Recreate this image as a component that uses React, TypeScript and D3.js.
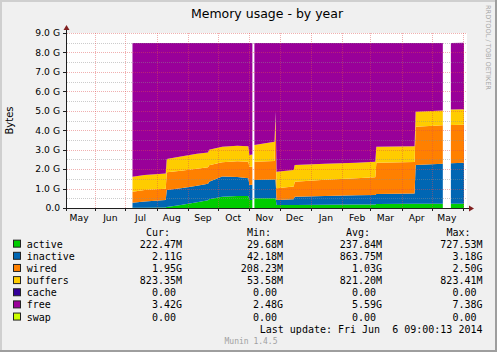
import React, { useRef, useEffect } from "react";
import * as d3 from "d3";

// daily samples (GiB, layer thickness); null = no data
const dates = [
  "2013-07-08", "2013-07-20", "2013-08-10", "2013-08-11", "2013-08-25",
  "2013-09-10", "2013-09-21", "2013-09-22", "2013-10-05", "2013-10-20",
  "2013-10-31", "2013-11-01", "2013-11-04", "2013-11-05", "2013-11-06",
  "2013-11-26", "2013-11-27", "2013-11-28", "2013-12-15", "2013-12-16",
  "2014-01-15", "2014-02-15", "2014-03-06", "2014-03-07", "2014-04-14",
  "2014-04-15", "2014-05-12", "2014-05-13", "2014-05-20", "2014-06-02",
];
const active = [
  0.01, 0.01, 0.02, 0.05, 0.15, 0.3, 0.4, 0.45, 0.58, 0.62,
  0.62, 0.41, 0.41, null, 0.5, 0.5, 0.5, 0.15, 0.15, 0.15,
  0.17, 0.18, 0.18, 0.2, 0.22, 0.22, 0.22, null, 0.22, 0.22,
];
const inactive = [
  0.26, 0.32, 0.39, 0.88, 0.87, 0.85, 0.85, 0.9, 1.04, 0.98,
  0.91, 0.77, 0.79, null, 0.94, 0.96, 0.96, 0.26, 0.3, 0.43,
  0.45, 0.47, 0.49, 0.52, 0.53, 1.99, 2.06, null, 2.08, 2.11,
];
const wired = [
  0.57, 0.59, 0.58, 0.91, 0.9, 0.87, 0.85, 0.85, 0.73, 0.8,
  0.85, 0.94, 0.92, null, 0.94, 0.96, 3.14, 0.6, 0.65, 0.77,
  0.83, 0.88, 0.91, 1.61, 1.61, 1.97, 1.97, null, 1.97, 1.95,
];
const buffers = [
  0.77, 0.78, 0.79, 0.68, 0.73, 0.77, 0.76, 0.8, 0.8, 0.8,
  0.79, 0.61, 0.63, null, 0.86, 0.99, 0.35, 0.86, 0.85, 0.86,
  0.83, 0.8, 0.8, 0.82, 0.81, 0.77, 0.77, null, 0.79, 0.8,
];
const cache = [
  0, 0, 0, 0, 0, 0, 0, 0, 0, 0,
  0, 0, 0, null, 0, 0, 0, 0, 0, 0,
  0, 0, 0, 0, 0, 0, 0, null, 0, 0,
];
const free = [
  6.88, 6.79, 6.71, 5.97, 5.84, 5.7, 5.63, 5.49, 5.34, 5.29,
  5.32, 5.76, 5.74, null, 5.25, 5.08, 3.54, 6.62, 6.54, 6.28,
  6.21, 6.16, 6.11, 5.34, 5.32, 3.54, 3.47, null, 3.43, 3.42,
];
const swap = [
  0, 0, 0, 0, 0, 0, 0, 0, 0, 0,
  0, 0, 0, null, 0, 0, 0, 0, 0, 0,
  0, 0, 0, 0, 0, 0, 0, null, 0, 0,
];

const monthLabels = ["May", "Jun", "Jul", "Aug", "Sep", "Oct", "Nov", "Dec", "Jan", "Feb", "Mar", "Apr", "May"];
const yTickValues = [0, 1, 2, 3, 4, 5, 6, 7, 8, 9];
const yTickLabels = ["0.0", "1.0 G", "2.0 G", "3.0 G", "4.0 G", "5.0 G", "6.0 G", "7.0 G", "8.0 G", "9.0 G"];

const legendNames = ["active", "inactive", "wired", "buffers", "cache", "free", "swap"];
const curValues = ["222.47M", "2.11G", "1.95G", "823.35M", "0.00", "3.42G", "0.00"];
const minValues = ["29.68M", "42.18M", "208.23M", "53.58M", "0.00", "2.48G", "0.00"];
const avgValues = ["237.84M", "863.75M", "1.03G", "821.20M", "0.00", "5.59G", "0.00"];
const maxValues = ["727.53M", "3.18G", "2.50G", "823.41M", "0.00", "7.38G", "0.00"];

const colors = ["#00cc00", "#0066b3", "#ff8000", "#ffcc00", "#330099", "#990099", "#ccff00"];

const App = () => {
  const ref = useRef(null);

  useEffect(() => {
    const svg = d3.select(ref.current);
    svg.selectAll("*").remove();

    const W = 497;
    const H = 352;
    const left = 67;
    const right = 467;
    const top = 33;
    const bottom = 208;
    const sans = "'DejaVu Sans', sans-serif";
    const mono = "'DejaVu Sans Mono', monospace";

    svg.attr("width", W).attr("height", H);

    // background + 3d frame
    svg.append("rect").attr("width", W).attr("height", H).attr("fill", "#f0f0f0");
    svg.append("path").attr("d", `M0,0H${W}V2H2V${H}H0Z`).attr("fill", "#cfcfcf");
    svg.append("path").attr("d", `M${W},0V${H}H0V${H - 2}H${W - 2}V0Z`).attr("fill", "#9e9e9e");

    const parse = d3.timeParse("%Y-%m-%d");
    const x = d3
      .scaleTime()
      .domain([new Date(2013, 4, 4), new Date(2014, 5, 5)])
      .range([left, right]);
    const y = d3.scaleLinear().domain([0, 9]).range([bottom, top]);

    svg
      .append("rect")
      .attr("x", left)
      .attr("y", top)
      .attr("width", right - left)
      .attr("height", bottom - top)
      .attr("fill", "#ffffff");

    const series = { active, inactive, wired, buffers, cache, free, swap };
    const rows = dates.map((d, i) => {
      const row = { date: parse(d), ok: active[i] !== null };
      legendNames.forEach((k) => {
        row[k] = series[k][i] ?? 0;
      });
      return row;
    });

    const stacked = d3.stack().keys(legendNames)(rows);
    const area = d3
      .area()
      .defined((d) => d.data.ok)
      .x((d) => x(d.data.date))
      .y0((d) => y(d[0]))
      .y1((d) => y(d[1]));

    svg
      .append("g")
      .selectAll("path")
      .data(stacked)
      .enter()
      .append("path")
      .attr("d", area)
      .attr("fill", (d, i) => colors[i]);

    // grid on top, dotted like rrdtool
    const grid = svg.append("g").attr("shape-rendering", "crispEdges");
    d3.range(0.5, 9, 1).forEach((v) => {
      grid
        .append("line")
        .attr("x1", left)
        .attr("x2", right)
        .attr("y1", Math.round(y(v)) + 0.5)
        .attr("y2", Math.round(y(v)) + 0.5)
        .attr("stroke", "rgba(143,143,143,0.45)")
        .attr("stroke-dasharray", "1,1");
    });
    yTickValues.slice(1).forEach((v) => {
      grid
        .append("line")
        .attr("x1", left)
        .attr("x2", right)
        .attr("y1", Math.round(y(v)) + 0.5)
        .attr("y2", Math.round(y(v)) + 0.5)
        .attr("stroke", "rgba(222,79,79,0.45)")
        .attr("stroke-dasharray", "1,1");
    });
    const months = d3.timeMonth.range(new Date(2013, 5, 1), new Date(2014, 5, 5));
    months.forEach((m) => {
      const xm = Math.round(x(m)) + 0.5;
      grid
        .append("line")
        .attr("x1", xm)
        .attr("x2", xm)
        .attr("y1", top)
        .attr("y2", bottom)
        .attr("stroke", "rgba(222,79,79,0.45)")
        .attr("stroke-dasharray", "1,1");
      grid
        .append("line")
        .attr("x1", xm)
        .attr("x2", xm)
        .attr("y1", bottom)
        .attr("y2", bottom + 3)
        .attr("stroke", "#1f1f1f");
    });

    // axes
    grid
      .append("line")
      .attr("x1", left - 4)
      .attr("x2", right + 3)
      .attr("y1", bottom + 0.5)
      .attr("y2", bottom + 0.5)
      .attr("stroke", "#1f1f1f");
    grid
      .append("line")
      .attr("x1", left - 0.5)
      .attr("x2", left - 0.5)
      .attr("y1", bottom + 3)
      .attr("y2", top - 4)
      .attr("stroke", "#1f1f1f");
    yTickValues.forEach((v) => {
      grid
        .append("line")
        .attr("x1", left - 4)
        .attr("x2", left)
        .attr("y1", Math.round(y(v)) + 0.5)
        .attr("y2", Math.round(y(v)) + 0.5)
        .attr("stroke", "#1f1f1f");
    });
    svg
      .append("path")
      .attr("d", `M${left - 3.5},${top - 3}L${left - 0.5},${top - 8}L${left + 2.5},${top - 3}Z`)
      .attr("fill", "#801f1f");
    svg
      .append("path")
      .attr("d", `M${right + 2},${bottom - 2.5}L${right + 7},${bottom + 0.5}L${right + 2},${bottom + 3.5}Z`)
      .attr("fill", "#801f1f");

    // tick labels
    yTickValues.forEach((v, i) => {
      svg
        .append("text")
        .attr("x", 60)
        .attr("y", y(v) + 3.3)
        .attr("text-anchor", "end")
        .attr("font-family", sans)
        .attr("font-size", 9.2)
        .attr("fill", "#000")
        .text(yTickLabels[i]);
    });
    const labelMonths = d3.timeMonth.range(new Date(2013, 4, 1), new Date(2014, 5, 1));
    labelMonths.forEach((m, i) => {
      svg
        .append("text")
        .attr("x", x(d3.timeDay.offset(m, 15)))
        .attr("y", 221)
        .attr("text-anchor", "middle")
        .attr("font-family", sans)
        .attr("font-size", 9.2)
        .attr("fill", "#000")
        .text(monthLabels[i]);
    });

    // titles
    svg
      .append("text")
      .attr("x", (left + right) / 2)
      .attr("y", 18)
      .attr("text-anchor", "middle")
      .attr("font-family", sans)
      .attr("font-size", 12.5)
      .attr("fill", "#000")
      .text("Memory usage - by year");
    svg
      .append("text")
      .attr("transform", `translate(13,${(top + bottom) / 2}) rotate(-90)`)
      .attr("text-anchor", "middle")
      .attr("font-family", sans)
      .attr("font-size", 10)
      .attr("fill", "#000")
      .text("Bytes");
    svg
      .append("text")
      .attr("transform", "translate(486,5) rotate(90)")
      .attr("font-family", sans)
      .attr("font-size", 6.6)
      .attr("fill", "#a8a8a8")
      .text("RRDTOOL / TOBI OETIKER");

    // legend
    const cw = 6.02;
    const cols = [182, 283, 382, 482.5];
    const heads = ["Cur:", "Min:", "Avg:", "Max:"];
    const lg = svg.append("g").attr("font-family", mono).attr("font-size", 10).attr("fill", "#000");
    heads.forEach((h, c) => {
      lg.append("text").attr("x", cols[c] - 36).attr("y", 235.5).text(h);
    });
    const valueCols = [curValues, minValues, avgValues, maxValues];
    legendNames.forEach((name, i) => {
      const by = 235.5 + 12.15 * (i + 1);
      lg.append("rect")
        .attr("x", 13.5)
        .attr("y", by - 7.5)
        .attr("width", 7)
        .attr("height", 7)
        .attr("fill", colors[i])
        .attr("stroke", "#222")
        .attr("stroke-width", 1);
      lg.append("text").attr("x", 26.7).attr("y", by).text(name);
      valueCols.forEach((vals, c) => {
        const v = vals[i];
        const hasUnit = /[A-Za-z]$/.test(v);
        lg.append("text")
          .attr("x", cols[c] - (hasUnit ? 0 : cw))
          .attr("y", by)
          .attr("text-anchor", "end")
          .text(v);
      });
    });
    lg.append("text")
      .attr("x", cols[3])
      .attr("y", 235.5 + 12.15 * 8)
      .attr("text-anchor", "end")
      .style("white-space", "pre")
      .text("Last update: Fri Jun  6 09:00:13 2014");
    svg
      .append("text")
      .attr("x", 224.5)
      .attr("y", 344)
      .attr("font-family", mono)
      .attr("font-size", 8)
      .attr("fill", "#a0a0a0")
      .text("Munin 1.4.5");

    return () => {
      svg.selectAll("*").remove();
    };
  }, []);

  return (
    <svg
      ref={ref}
      style={{ display: "block", position: "absolute", left: 0, top: 0 }}
    />
  );
};

export default App;
